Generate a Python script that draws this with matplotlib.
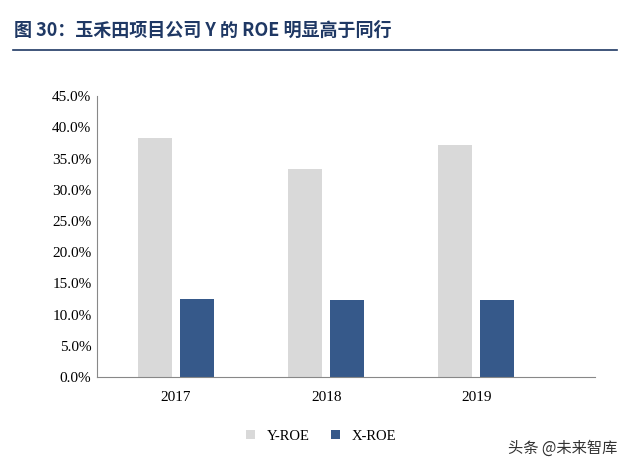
import matplotlib
matplotlib.use("Agg")
import matplotlib.pyplot as plt
import numpy as np
from matplotlib.ticker import PercentFormatter

plt.rcParams['font.family'] = ['Noto Sans CJK SC', 'DejaVu Sans']

years = ['2017', '2018', '2019']
y_roe = [38.3, 33.4, 37.2]
x_roe = [12.5, 12.3, 12.3]

fig = plt.figure(figsize=(6.3, 4.69), dpi=100)
ax = fig.add_axes([0.154, 0.196, 0.79, 0.599])
x = np.arange(len(years))
w = 0.227
ax.bar(x - 0.14, y_roe, w, color='#d9d9d9', label='Y-ROE')
ax.bar(x + 0.14, x_roe, w, color='#36598a', label='X-ROE')
ax.set_ylim(0, 45)
ax.set_yticks(np.arange(0, 46, 5))
ax.yaxis.set_major_formatter(PercentFormatter(decimals=1))
ax.set_xlim(-0.527, 2.79)
ax.set_xticks(x)
ax.set_xticklabels(years)
for s in ['top', 'right']:
    ax.spines[s].set_visible(False)
ax.spines['left'].set_color('#888888')
ax.spines['bottom'].set_color('#888888')
ax.tick_params(axis='x', length=0, pad=10)
ax.tick_params(axis='y', length=0, pad=4)
for lab in ax.get_xticklabels() + ax.get_yticklabels():
    lab.set_fontfamily('Liberation Serif')
    lab.set_fontsize(11)
leg = ax.legend(loc='upper center', bbox_to_anchor=(0.45, -0.14), ncol=2, frameon=False,
                prop={'family': 'Liberation Serif', 'size': 10.5}, handlelength=0.6, handleheight=0.6, columnspacing=1.5)

fig.text(0.022, 0.935, '图 30：玉禾田项目公司 Y 的 ROE 明显高于同行', fontsize=13, fontweight='bold',
         color='#1f3864', va='center', family=['Noto Sans CJK SC', 'DejaVu Sans'])
fig.add_artist(plt.Line2D([0.02, 0.98], [0.893, 0.893], color='#1f3864', lw=1.2))
fig.text(0.98, 0.045, '头条 @未来智库', fontsize=11, color='#333333', ha='right', va='center')
fig.savefig('out.png', dpi=100)
